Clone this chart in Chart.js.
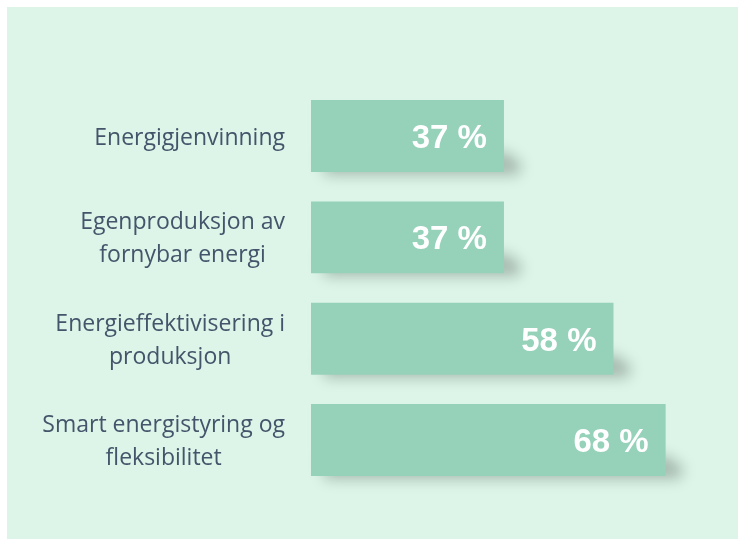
<!DOCTYPE html>
<html>
<head>
<meta charset="utf-8">
<script src="https://cdn.jsdelivr.net/npm/chart.js@4/dist/chart.umd.min.js"></script>
<style>
  html, body { margin: 0; padding: 0; background: #ffffff; }
  #wrap { position: absolute; left: 7px; top: 7px; width: 731px; height: 532px; background: #DCF5E8; }
  canvas { display: block; }
</style>
</head>
<body>
<div id="wrap"><canvas id="c" width="731" height="532"></canvas></div>
<script>
const categories = [
  ["Energigjenvinning"],
  ["Egenproduksjon av", "fornybar energi"],
  ["Energieffektivisering i", "produksjon"],
  ["Smart energistyring og", "fleksibilitet"]
];
const values = [37, 37, 58, 68];
const valueLabels = ["37 %", "37 %", "58 %", "68 %"];

const LABEL_FONT = '23px "Open Sans", sans-serif';
const LABEL_COLOR = '#44546A';

const shadowPlugin = {
  id: 'barShadow',
  beforeDatasetsDraw(chart) {
    const ctx = chart.ctx;
    const meta = chart.getDatasetMeta(0);
    ctx.save();
    ctx.filter = 'blur(7px)';
    ctx.fillStyle = 'rgba(0,0,0,0.24)';
    meta.data.forEach((bar) => {
      const bottom = bar.y + bar.height / 2;
      const left = bar.base;
      const right = bar.x;
      ctx.beginPath();
      ctx.moveTo(left + 10, bottom - 20);
      ctx.lineTo(right + 2, bottom - 20);
      ctx.lineTo(right + 18, bottom - 8);
      ctx.lineTo(right + 14, bottom + 3);
      ctx.lineTo(left + 14, bottom + 3);
      ctx.closePath();
      ctx.fill();
    });
    ctx.restore();
  },
  afterDatasetsDraw(chart) {
    const ctx = chart.ctx;
    // value labels
    const meta = chart.getDatasetMeta(0);
    ctx.save();
    ctx.font = 'bold 33px "Liberation Sans", Arial, sans-serif';
    ctx.fillStyle = '#ffffff';
    ctx.textAlign = 'right';
    ctx.textBaseline = 'middle';
    meta.data.forEach((bar, i) => {
      ctx.fillText(valueLabels[i], bar.x - 17, bar.y + 3);
    });
    ctx.restore();
    // category labels
    const y = chart.scales.y;
    ctx.save();
    ctx.font = LABEL_FONT;
    ctx.fillStyle = LABEL_COLOR;
    ctx.textAlign = 'center';
    ctx.textBaseline = 'middle';
    const rightEdge = 278;
    const lineH = 33;
    categories.forEach((lines, i) => {
      const cy = y.getPixelForValue(i) + 2;
      const w = Math.max(...lines.map(l => ctx.measureText(l).width));
      const cx = rightEdge - w / 2;
      const start = cy - (lines.length - 1) * lineH / 2;
      lines.forEach((l, j) => ctx.fillText(l, cx, start + j * lineH));
    });
    ctx.restore();
  }
};

new Chart(document.getElementById('c'), {
  type: 'bar',
  data: {
    labels: categories,
    datasets: [{
      data: values,
      backgroundColor: '#96D1BA',
      borderWidth: 0,
      categoryPercentage: 1.0,
      barPercentage: 0.71
    }]
  },
  options: {
    indexAxis: 'y',
    responsive: false,
    animation: false,
    layout: { padding: { left: 304, right: 9.8, top: 78.4, bottom: 48.3 } },
    plugins: { legend: { display: false }, tooltip: { enabled: false } },
    scales: {
      x: { display: false, min: 0, max: 80 },
      y: { display: false }
    }
  },
  plugins: [shadowPlugin]
});
</script>
</body>
</html>
